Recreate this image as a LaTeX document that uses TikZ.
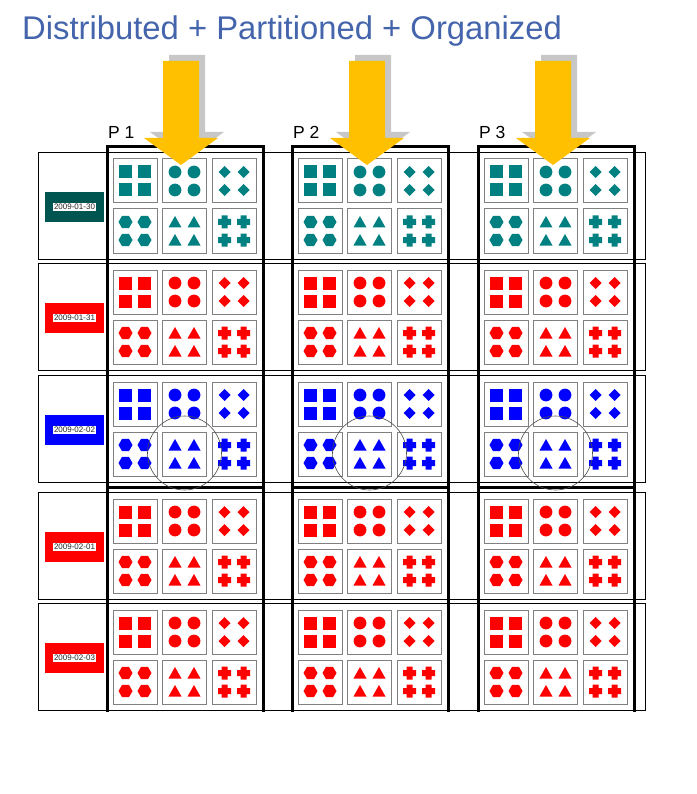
\documentclass[tikz,border=0pt]{standalone}
\usepackage{fontspec}
\setmainfont{Liberation Sans}

\definecolor{titleblue}{RGB}{68,100,172}
\definecolor{arrowyellow}{RGB}{255,192,0}
\definecolor{tealshape}{RGB}{0,128,128}
\definecolor{tealdark}{RGB}{0,85,80}

\begin{document}
\begin{tikzpicture}[x=1pt, y=-1pt,
    rowbox/.style={draw=black, line width=0.9pt},
    cellbox/.style={draw=black!50, line width=1pt, fill=white},
    partline/.style={draw=black, line width=3pt},
    shade/.style={fill=black!22},
    blockarrow/.style={fill=arrowyellow},
    datebox/.style={minimum width=59pt, minimum height=30pt, inner sep=0pt},
    datetext/.style={fill=white, text=black!85, inner sep=1.2pt, font=\fontsize{8}{8}\selectfont},
    plabel/.style={anchor=base west, inner sep=0pt, font=\fontsize{17.5}{17.5}\selectfont},
    ring/.style={draw=black!70, line width=0.6pt},
    sqr/.pic={\fill (-6.5,-6.5) rectangle (6.5,6.5);},
    crc/.pic={\fill (0,0) circle (6.4);},
    dmd/.pic={\fill (0,-6) -- (6,0) -- (0,6) -- (-6,0) -- cycle;},
    hex/.pic={\fill (-7,0) -- (-3.5,-6.1) -- (3.5,-6.1) -- (7,0) -- (3.5,6.1) -- (-3.5,6.1) -- cycle;},
    tri/.pic={\fill (0,-6) -- (6.5,5.5) -- (-6.5,5.5) -- cycle;},
    pls/.pic={\fill (-6.5,-3) rectangle (6.5,3) (-3,-6.5) rectangle (3,6.5);}]
  \useasboundingbox (0,0) rectangle (696,794);

  \node[anchor=base west, inner sep=0pt, text=titleblue, font=\fontsize{32.8}{32.8}\selectfont] (title) at (22,40) {Distributed + Partitioned + Organized};

  % one row per date, six cells in every partition
  \foreach \ry/\shc/\lbc/\dt [count=\r] in {152/tealshape/tealdark/2009-01-30, 263/red/red/2009-01-31, 375/blue/blue/2009-02-02, 492/red/red/2009-02-01, 603/red/red/2009-02-03} {
    \draw[rowbox] (38,\ry) rectangle (645,\ry+107);
    \node[datebox, fill=\lbc] (d\r) at (74.5,\ry+55) {};
    \node[datetext] (t\r) at (d\r) {\dt};
    \foreach \px in {107,292,478}
      \foreach \shp [count=\k from 0] in {sqr,crc,dmd,hex,tri,pls} {
        \pgfmathsetmacro\cx{\px+28+mod(\k,3)*49.5}
        \pgfmathsetmacro\cy{\ry+29+int(\k/3)*50}
        \draw[cellbox] (\cx-22,\cy-22) rectangle (\cx+22,\cy+22);
        \foreach \dx/\dy in {-9.5/-9, 9.5/-9, -9.5/9, 9.5/9}
          \pic[color=\shc] at (\cx+\dx,\cy+\dy) {\shp};
      }
  }

  % partitions
  \foreach \px/\ax [count=\p] in {107/181, 292/367, 478/553} {
    \draw[partline] (\px,147) rectangle (\px+156,487);
    \draw[partline] (\px,487) -- (\px,712) (\px+156,487) -- (\px+156,712);
    \node[plabel] (p\p) at (\px+1,139) {P \p};
    \draw[ring] (\px+77.5,453) circle (37);
    \fill[shade, shift={(6,-6)}] (\ax-18,61) -- (\ax+18,61) -- (\ax+18,138) -- (\ax+37,138) -- (\ax,165) -- (\ax-37,138) -- (\ax-18,138) -- cycle;
    \fill[blockarrow] (\ax-18,61) -- (\ax+18,61) -- (\ax+18,138) -- (\ax+37,138) -- (\ax,165) -- (\ax-37,138) -- (\ax-18,138) -- cycle;
  }
\end{tikzpicture}
\end{document}
